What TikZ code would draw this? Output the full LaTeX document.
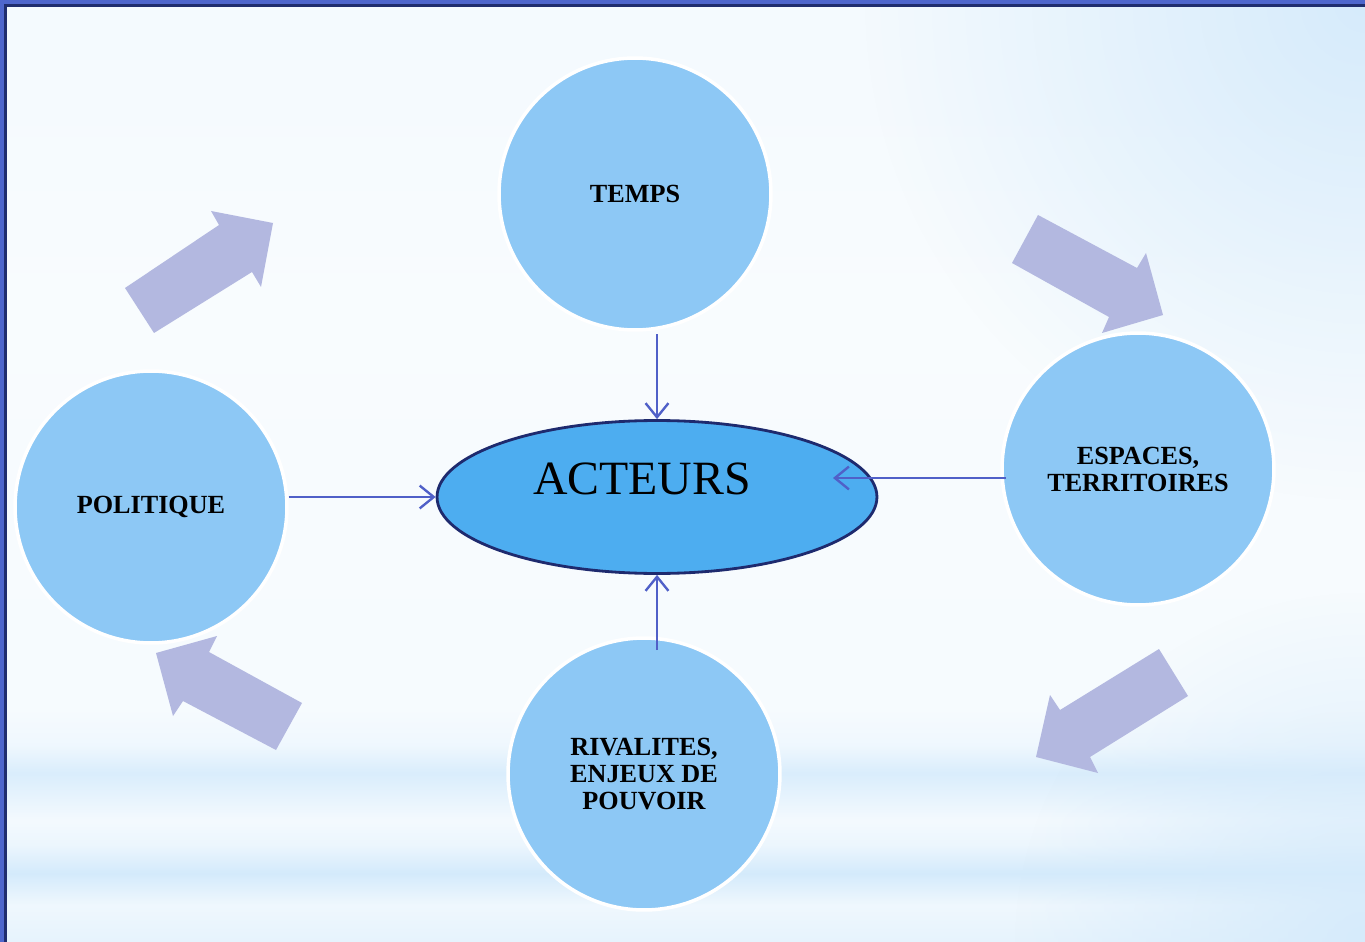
\documentclass[tikz,border=0pt]{standalone}
\usepackage{fontspec}
\setmainfont{Liberation Serif}
\usetikzlibrary{arrows.meta,shapes.geometric,fadings}
\definecolor{framea}{HTML}{4E66CC}
\definecolor{frameb}{HTML}{1F2D6E}
\definecolor{circc}{HTML}{8DC8F5}
\definecolor{ellc}{HTML}{4DADF0}
\definecolor{elld}{HTML}{1E2A6E}
\definecolor{connc}{HTML}{5060C8}
\definecolor{barrowc}{HTML}{B3B8E0}
\definecolor{glowc}{HTML}{D6EBFB}
\pgfdeclareverticalshading{bgshade}{100bp}{%
color(0bp)=(circc!22!white);
color(25bp)=(circc!22!white);
color(26.96bp)=(circc!14!white);
color(28.66bp)=(circc!38!white);
color(30.15bp)=(circc!17!white);
color(31.48bp)=(circc!10!white);
color(32.54bp)=(circc!20!white);
color(33.97bp)=(circc!33!white);
color(35.46bp)=(circc!14!white);
color(37.31bp)=(circc!8!white);
color(59.08bp)=(circc!6!white);
color(75bp)=(circc!10!white);
color(100bp)=(circc!10!white)}
\tikzfading[name=glowfade, inner color=transparent!0, outer color=transparent!100]
\tikzset{
  topic/.style={circle, fill=circc, draw=white, line width=2pt, minimum size=5.44cm,
    inner sep=0pt, align=center, font=\fontsize{14.9}{15.4}\selectfont\bfseries},
  hub/.style={ellipse, fill=ellc, draw=elld, line width=1.6pt, minimum width=8.8cm,
    minimum height=3.06cm, inner sep=0pt},
  conn/.style={draw=connc, line width=1.35pt, -{Straight Barb[length=8pt,width=13pt]}},
  barrow/.style={fill=barrowc}
}
\begin{document}
\begin{tikzpicture}[x=0.02cm, y=-0.02cm]
% background
\useasboundingbox (0,0) rectangle (1365,942);
\shade[shading=bgshade] (0,0) rectangle (1365,942);
\begin{scope}
\clip (0,0) rectangle (1365,942);
\fill[glowc, path fading=glowfade, fit fading=true] (1365,0) circle (10cm);
\fill[glowc, path fading=glowfade, fit fading=true] (1365,942) circle (7cm);
\end{scope}
% frame
\fill[framea] (0,0) rectangle (1365,4);
\fill[framea] (0,0) rectangle (4,942);
\fill[frameb] (4,4) rectangle (1365,7);
\fill[frameb] (4,4) rectangle (7,942);
% block arrows
\fill[barrow] (125,288) -- (219,225) -- (211,211) -- (273,223) -- (261,287) -- (252,272) -- (154,333) -- cycle;
\fill[barrow] (1038,215) -- (1137,268) -- (1146,253) -- (1163,315) -- (1102,333) -- (1109,317) -- (1012,263) -- cycle;
\fill[barrow] (1159,649) -- (1060,710) -- (1050,695) -- (1036,757) -- (1098,773) -- (1090,757) -- (1188,696) -- cycle;
\fill[barrow] (217,636) -- (156,653) -- (173,716) -- (183,701) -- (276,750) -- (302,703) -- (209,652) -- cycle;
% nodes
\node[topic] (temps) at (635,194) {TEMPS};
\node[topic] (politique) at (151,507) {POLITIQUE};
\node[topic] (espaces) at (1138,469) {ESPACES,\\TERRITOIRES};
\node[topic] (rivalites) at (644,774) {RIVALITES,\\ENJEUX DE\\POUVOIR};
\node[hub] (acteurs) at (657,497) {};
\node[font=\fontsize{27.2}{30}\selectfont] (acteurslbl) at (642,479) {ACTEURS};
% connectors
\coordinate (eEnd) at (833,478);
\coordinate (rStart) at (657,650);
\draw[conn, shorten <=1.5pt] (temps.south -| acteurs.north) -- (acteurs.north);
\draw[conn] (politique.east |- acteurs.west) -- (acteurs.west);
\draw[conn, shorten <=-3pt] (espaces.west |- eEnd) -- (eEnd);
\draw[conn] (rStart) -- (acteurs.south);
\end{tikzpicture}
\end{document}
